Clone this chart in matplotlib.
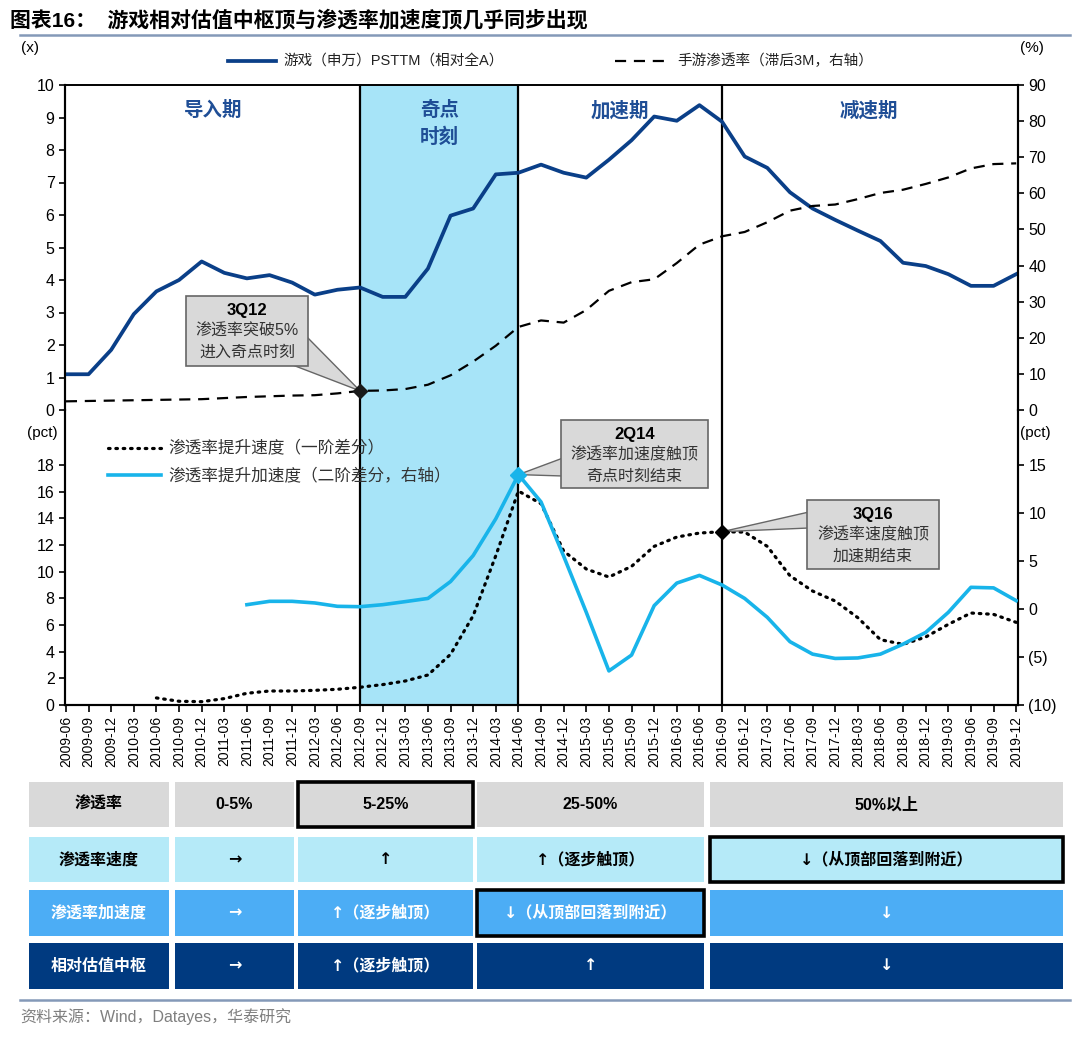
import matplotlib
matplotlib.use("Agg")
import matplotlib.pyplot as plt
from matplotlib.patches import Rectangle, Polygon
from matplotlib.lines import Line2D

plt.rcParams['font.family'] = ['Liberation Sans', 'Noto Sans CJK SC', 'DejaVu Sans']

# quarters on the x axis
quarters = [
    "2009-06", "2009-09", "2009-12",
    "2010-03", "2010-06", "2010-09", "2010-12",
    "2011-03", "2011-06", "2011-09", "2011-12",
    "2012-03", "2012-06", "2012-09", "2012-12",
    "2013-03", "2013-06", "2013-09", "2013-12",
    "2014-03", "2014-06", "2014-09", "2014-12",
    "2015-03", "2015-06", "2015-09", "2015-12",
    "2016-03", "2016-06", "2016-09", "2016-12",
    "2017-03", "2017-06", "2017-09", "2017-12",
    "2018-03", "2018-06", "2018-09", "2018-12",
    "2019-03", "2019-06", "2019-09", "2019-12",
]

# game sector PS TTM relative to all A (x)
psttm = [1.1, 1.1, 1.85, 2.95, 3.65, 4.0, 4.57, 4.22, 4.05, 4.15, 3.92, 3.55, 3.7, 3.77,
         3.48, 3.48, 4.35, 5.98, 6.2, 7.25, 7.3,
         7.55, 7.3, 7.15, 7.7, 8.3, 9.03, 8.9, 9.38, 8.87,
         7.8, 7.45, 6.7, 6.2, 5.85, 5.52, 5.2, 4.53, 4.43, 4.18, 3.82, 3.82, 4.18]

# mobile game penetration, lagged 3M (%)
penetration = [2.4, 2.5, 2.6, 2.7, 2.8, 2.9, 3.0, 3.3, 3.6, 3.8, 4.0, 4.1, 4.6, 5.3,
               5.4, 5.8, 7.0, 9.6, 13.4, 17.8, 23.0,
               24.8, 24.2, 27.7, 33.0, 35.4, 36.2, 40.7, 45.8, 48.1,
               49.3, 52.0, 55.2, 56.5, 56.9, 58.4, 60.1, 61.0, 62.6, 64.4, 66.9, 68.1, 68.3]

# first difference (pct), starts 2010-06
speed_start = 4
speed = [0.53, 0.28, 0.25, 0.48, 0.88, 1.05, 1.05, 1.1, 1.18, 1.33,
         1.53, 1.8, 2.25, 3.8, 6.7, 11.2, 16.05,
         15.1, 11.55, 10.2, 9.6, 10.4, 11.9, 12.6, 12.9, 13.0,
         12.97, 11.9, 9.7, 8.55, 7.8, 6.55, 4.9, 4.55, 5.1, 6.05, 6.9, 6.8, 6.2]

# second difference (pct, right axis), starts 2011-06
acc_start = 8
accel = [0.45, 0.8, 0.8, 0.63, 0.28, 0.24,
         0.45, 0.77, 1.1, 2.86, 5.57, 9.4, 14.0,
         11.15, 5.5, -0.35, -6.45, -4.8, 0.35, 2.7, 3.5, 2.5,
         1.1, -0.87, -3.4, -4.7, -5.15, -5.1, -4.7, -3.66, -2.44, -0.35, 2.26, 2.2, 0.87]

# phase boundaries (index into quarters)
singular_start, singular_end, accel_end = 13, 20, 29

phases = [("导入期", 6.5), ("奇点\n时刻", 16.5), ("加速期", 24.5), ("减速期", 35.5)]

table_rows = [
    ["渗透率", "0-5%", "5-25%", "25-50%", "50%以上"],
    ["渗透率速度", "→", "↑", "↑（逐步触顶）", "↓（从顶部回落到附近）"],
    ["渗透率加速度", "→", "↑（逐步触顶）", "↓（从顶部回落到附近）", "↓"],
    ["相对估值中枢", "→", "↑（逐步触顶）", "↑", "↓"],
]
highlight = [(0, 2), (1, 4), (2, 3)]

NAVY = "#0A3F88"
CYAN = "#18B4EA"
BAND = "#A7E4F8"
row_fill = ["#D9D9D9", "#B5EAF8", "#4CADF5", "#003A80"]
row_text = ["black", "black", "white", "white"]

W, H = 1080, 1048
fig = plt.figure(figsize=(W / 100, H / 100), dpi=100)


def rect(l, t, r, b):
    return [l / W, 1 - b / H, (r - l) / W, (b - t) / H]


def fp(x, y):
    return (x / W, 1 - y / H)


ax1 = fig.add_axes(rect(65, 85, 1018, 410))
ax2 = ax1.twinx()
ax3 = fig.add_axes(rect(65, 410, 1018, 705))
ax4 = ax3.twinx()
for a in (ax1, ax2, ax3, ax4):
    a.patch.set_visible(False)

xs = list(range(len(quarters)))
xlim = (-0.04, 42.08)

# shaded singular phase and phase lines
for a in (ax1, ax3):
    a.axvspan(singular_start, singular_end, color=BAND, lw=0, zorder=0)
    for v in (singular_start, singular_end, accel_end):
        a.axvline(v, color="black", lw=1.6, zorder=1)

ax1.plot(xs, psttm, color=NAVY, lw=2.7, zorder=3)
ax2.plot(xs, penetration, color="black", lw=1.6, ls=(0, (5, 3.5)), zorder=3)
ax3.plot(xs[speed_start:], speed, color="black", lw=2.3, ls=(0, (0.5, 1.8)),
         dash_capstyle="round", zorder=3)
ax4.plot(xs[acc_start:], accel, color=CYAN, lw=2.6, zorder=3)

ax1.set_xlim(*xlim)
ax3.set_xlim(*xlim)
ax1.set_ylim(0, 10)
ax2.set_ylim(0, 90)
ax3.set_ylim(0, 22.13)
ax4.set_ylim(-10, 20.73)

tick_kw = dict(labelsize=11.5, length=4, width=1.2, colors="black", direction="out")
ax1.set_yticks(range(0, 11))
ax2.set_yticks(range(0, 91, 10))
ax3.set_yticks(range(0, 19, 2))
ax4.set_yticks(range(-10, 16, 5))
ax4.set_yticklabels(["(10)", "(5)", "0", "5", "10", "15"])
for a in (ax1, ax2, ax3, ax4):
    a.tick_params(axis="y", **tick_kw)
ax1.set_xticks([])
ax3.set_xticks(xs)
ax3.set_xticklabels(quarters, rotation=90, fontsize=10)
ax3.tick_params(axis="x", length=5, width=1.2, direction="out", pad=3)

for a in (ax1, ax2):
    a.spines["bottom"].set_visible(False)
    a.spines["top"].set_linewidth(1.2)
for a in (ax3, ax4):
    a.spines["top"].set_visible(False)
    a.spines["bottom"].set_linewidth(1.5)
for a in (ax1, ax2, ax3, ax4):
    a.spines["left"].set_linewidth(1.5)
    a.spines["right"].set_linewidth(1.5)

# phase labels
for name, xc in phases:
    ax1.text(xc, 0.95, name, transform=ax1.get_xaxis_transform(), ha="center", va="top",
             fontsize=14, fontweight="bold", color="#1F4E96", linespacing=1.45, zorder=4)

# diamond markers at the turning points
ax2.plot(singular_start, penetration[singular_start], marker="D", color="#1a1a1a", ms=7, zorder=8)
ax4.plot(singular_end, accel[singular_end - acc_start], marker="D", color=CYAN, ms=8, zorder=8)
ax3.plot(accel_end, speed[accel_end - speed_start], marker="D", color="black", ms=7, zorder=8)


def callout(ax, tip_data, box, base, lines):
    tip = fig.transFigure.inverted().transform(ax.transData.transform(tip_data))
    l, t, r, b = box
    wedge = Polygon([fp(*base[0]), tuple(tip), fp(*base[1])], closed=True,
                    transform=fig.transFigure, facecolor="#D9D9D9", edgecolor="#666666",
                    lw=1.0, clip_on=False, zorder=5)
    ax.add_patch(wedge)
    ax.add_patch(Rectangle(fp(l, b), (r - l) / W, (b - t) / H, transform=fig.transFigure,
                           facecolor="#D9D9D9", edgecolor="#666666", lw=1.2,
                           clip_on=False, zorder=6))
    cx = (l + r) / 2
    ys = [t + 15, t + 35, t + 56]
    for i, (txt, y) in enumerate(zip(lines, ys)):
        ax.text(*fp(cx, y), txt, transform=fig.transFigure, ha="center", va="center",
                fontsize=12 if i == 0 else 11.5, fontweight="bold" if i == 0 else "normal",
                color="black" if i == 0 else "#333333", zorder=7, clip_on=False)


callout(ax2, (singular_start, penetration[singular_start]), (186, 296, 308, 366),
        [(306, 336), (290, 364)], ["3Q12", "渗透率突破5%", "进入奇点时刻"])
callout(ax4, (singular_end, accel[singular_end - acc_start]), (561, 420, 708, 488),
        [(563, 458), (563, 476)], ["2Q14", "渗透率加速度触顶", "奇点时刻结束"])
callout(ax3, (accel_end, speed[accel_end - speed_start]), (807, 500, 939, 569),
        [(809, 512), (809, 528)], ["3Q16", "渗透率速度触顶", "加速期结束"])

# title and rules
fig.text(*fp(10, 20), "图表16：  游戏相对估值中枢顶与渗透率加速度顶几乎同步出现",
         fontsize=15, fontweight="bold", va="center", ha="left")
fig.add_artist(Line2D([20 / W, 1070 / W], [1 - 35 / H] * 2, color="#8499B8", lw=1.8))
fig.add_artist(Line2D([20 / W, 1070 / W], [1 - 1000 / H] * 2, color="#8499B8", lw=1.8))
fig.text(*fp(20, 1017), "资料来源：Wind，Datayes，华泰研究", fontsize=11.5,
         color="#7F7F7F", va="center", ha="left")

# unit labels
for x, y, s in [(30, 48, "(x)"), (1032, 48, "(%)"), (42, 433, "(pct)"), (1035, 433, "(pct)")]:
    fig.text(*fp(x, y), s, fontsize=11, va="center", ha="center")

# top legend
fig.add_artist(Line2D([228 / W, 276 / W], [1 - 61 / H] * 2, color=NAVY, lw=2.7))
fig.text(*fp(283, 61), "游戏（申万）PSTTM（相对全A）", fontsize=10.5, va="center", color="#222222")
fig.add_artist(Line2D([615 / W, 667 / W], [1 - 61 / H] * 2, color="black", lw=1.6,
                      ls=(0, (5, 3.5))))
fig.text(*fp(677, 61), "手游渗透率（滞后3M，右轴）", fontsize=10.5, va="center", color="#222222")

# lower legend
fig.add_artist(Line2D([108 / W, 161 / W], [1 - 448 / H] * 2, color="black", lw=2.3,
                      ls=(0, (0.5, 1.8)), dash_capstyle="round"))
fig.text(*fp(168, 447), "渗透率提升速度（一阶差分）", fontsize=12, va="center", color="#333333")
fig.add_artist(Line2D([108 / W, 161 / W], [1 - 475 / H] * 2, color=CYAN, lw=2.6))
fig.text(*fp(168, 475), "渗透率提升加速度（二阶差分，右轴）", fontsize=12, va="center", color="#333333")

# summary table
col_edges = [(29, 169), (175, 294), (298, 473), (477, 704), (710, 1063)]
row_edges = [(782, 827), (837, 882), (890, 936), (943, 989)]
for ri, row in enumerate(table_rows):
    t, b = row_edges[ri]
    for ci, txt in enumerate(row):
        l, r = col_edges[ci]
        hl = (ri, ci) in highlight
        fig.add_artist(Rectangle(fp(l, b), (r - l) / W, (b - t) / H, transform=fig.transFigure,
                                 facecolor=row_fill[ri], edgecolor="black" if hl else "none",
                                 lw=2.6 if hl else 0))
        fam = ['Liberation Sans', 'Noto Sans CJK SC', 'DejaVu Sans']
        if txt[0] in "→↑↓":
            fam = ['DejaVu Sans', 'Noto Sans CJK SC']
        fig.text(*fp((l + r) / 2, (t + b) / 2), txt, fontsize=11.5, fontweight="bold",
                 color=row_text[ri], ha="center", va="center", family=fam)

fig.savefig("out.png", dpi=100, facecolor="white")
